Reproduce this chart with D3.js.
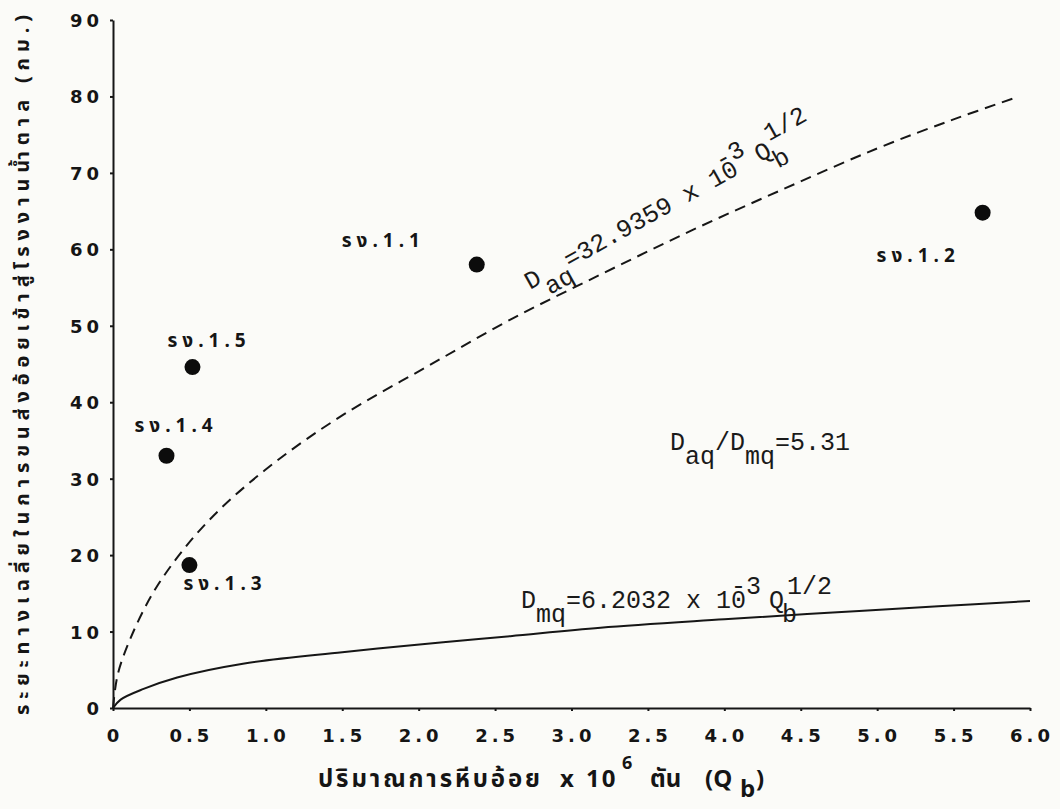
<!DOCTYPE html>
<html>
<head>
<meta charset="utf-8">
<script src="https://cdn.jsdelivr.net/npm/d3@7"></script>
<style>
  body { margin: 0; background: #fbfbf8; }
  svg { display: block; }
  .tick-lbl { font-family: "DejaVu Sans", sans-serif; font-weight: bold; font-size: 18px; letter-spacing: 4px; fill: #151515; }
  .site-lbl { font-family: "Noto Sans Thai", "Loma", "Garuda", "Tlwg Typo", "DejaVu Sans", sans-serif; font-weight: bold; font-size: 19px; letter-spacing: 5px; fill: #151515; }
  .eq { font-family: "Liberation Mono", "Courier New", monospace; font-size: 25px; fill: #1a1a1a; }
  .axis-title { font-family: "Noto Sans Thai", "Loma", "Garuda", "DejaVu Sans", sans-serif; font-weight: bold; fill: #151515; }
</style>
</head>
<body>
<svg id="chart"></svg>
<script>
var width = 1060,
    height = 809;

// x axis: sugarcane crushed x 10^6 tons
var xTicks = [0, 0.5, 1, 1.5, 2, 2.5, 3, 3.5, 4, 4.5, 5, 5.5, 6];
// labels as printed (3.5 is typed as "2.5" in the original)
var xTickLabels = ["0", "0.5", "1.0", "1.5", "2.0", "2.5", "3.0", "2.5", "4.0", "4.5", "5.0", "5.5", "6.0"];
var yTicks = [0, 10, 20, 30, 40, 50, 60, 70, 80, 90];

// sugar mills
var siteNames = ["รง.1.1", "รง.1.2", "รง.1.3", "รง.1.4", "รง.1.5"];
var siteQ = [2.38, 5.69, 0.50, 0.35, 0.52];
var siteD = [58.0, 64.8, 18.7, 33.0, 44.6];

// dashed curve D_aq
var aqQ = [0, 0.03, 0.11, 0.26, 0.46, 0.70, 1.07, 1.51, 2.05, 2.6, 3.2, 3.8, 4.4, 5.0, 5.5, 5.9];
var aqD = [0, 4.3, 8.9, 15.0, 20.7, 26.0, 32.3, 38.4, 44.6, 50.8, 56.8, 62.6, 68.0, 73.2, 77.0, 79.8];

// solid curve D_mq
var mqQ = [0, 0.05, 0.2, 0.42, 0.85, 1.5, 2.16, 2.6, 3.19, 4.0, 4.71, 5.4, 6.0];
var mqD = [0, 1.1, 2.5, 4.0, 5.8, 7.3, 8.6, 9.4, 10.5, 11.6, 12.5, 13.3, 14.0];

// label offsets from each dot (px)
var labelOffset = [[-135, -18], [-106, 49], [-6, 25], [-32, -24], [-25, -20]];

var x = d3.scaleLinear().domain([0, 6]).range([113, 1030]);
var y = d3.scaleLinear().domain([0, 90]).range([708, 20]);

var svg = d3.select('#chart')
  .attr('width', width)
  .attr('height', height);

var ink = '#161616';

// axes
var xAxis = svg.append('g')
  .attr('transform', 'translate(0,' + y(0) + ')')
  .call(d3.axisBottom(x).tickValues(xTicks).tickSize(3).tickSizeOuter(0).tickFormat(''));
var yAxis = svg.append('g')
  .attr('transform', 'translate(' + x(0) + ',0)')
  .call(d3.axisLeft(y).tickValues(yTicks).tickSize(3).tickSizeOuter(0).tickFormat(''));
[xAxis, yAxis].forEach(function(a) {
  a.select('.domain').attr('stroke', ink).attr('stroke-width', 2);
  a.selectAll('.tick line').attr('stroke', ink).attr('stroke-width', 2);
});

svg.append('g').selectAll('text')
  .data(xTicks)
  .join('text')
  .attr('class', 'tick-lbl')
  .attr('x', function(d) { return x(d) + 2; })
  .attr('y', y(0) + 34)
  .attr('text-anchor', 'middle')
  .text(function(d, i) { return xTickLabels[i]; });

svg.append('g').selectAll('text')
  .data(yTicks)
  .join('text')
  .attr('class', 'tick-lbl')
  .attr('x', x(0) - 10)
  .attr('y', function(d) { return y(d) + 7; })
  .attr('text-anchor', 'end')
  .text(function(d) { return d; });

// curves
var line = d3.line()
  .x(function(d) { return x(d[0]); })
  .y(function(d) { return y(d[1]); })
  .curve(d3.curveCatmullRom.alpha(0.5));

svg.append('path')
  .datum(aqQ.map(function(q, i) { return [q, aqD[i]]; }))
  .attr('d', line)
  .attr('fill', 'none')
  .attr('stroke', ink)
  .attr('stroke-width', 2)
  .attr('stroke-dasharray', '11,7');

svg.append('path')
  .datum(mqQ.map(function(q, i) { return [q, mqD[i]]; }))
  .attr('d', line)
  .attr('fill', 'none')
  .attr('stroke', ink)
  .attr('stroke-width', 2);

// mill points
var sites = siteNames.map(function(n, i) { return { name: n, q: siteQ[i], d: siteD[i], off: labelOffset[i] }; });

svg.append('g').selectAll('circle')
  .data(sites)
  .join('circle')
  .attr('cx', function(d) { return x(d.q); })
  .attr('cy', function(d) { return y(d.d); })
  .attr('r', 8)
  .attr('fill', '#0c0c0c');

svg.append('g').selectAll('text')
  .data(sites)
  .join('text')
  .attr('class', 'site-lbl')
  .attr('x', function(d) { return x(d.q) + d.off[0]; })
  .attr('y', function(d) { return y(d.d) + d.off[1]; })
  .text(function(d) { return d.name; });

// equation labels
function equation(g, sub, coef) {
  var t = g.append('text').attr('class', 'eq');
  t.append('tspan').text('D');
  t.append('tspan').attr('dy', 14).text(sub);
  t.append('tspan').attr('dy', -14).text(coef + ' x 10');
  t.append('tspan').attr('dx', -15).attr('dy', -14).text('-3');
  t.append('tspan').attr('dx', 8).attr('dy', 14).text('Q');
  t.append('tspan').attr('dx', -2).attr('dy', 14).text('b');
  t.append('tspan').attr('dx', -10).attr('dy', -28).text('1/2');
  return t;
}

equation(svg.append('g').attr('transform', 'translate(530,290) rotate(-29)'), 'aq', '=32.9359');
equation(svg.append('g').attr('transform', 'translate(521,608)'), 'mq', '=6.2032');

var ratio = svg.append('text').attr('class', 'eq').attr('x', 670).attr('y', 450);
ratio.append('tspan').text('D');
ratio.append('tspan').attr('dy', 14).text('aq');
ratio.append('tspan').attr('dy', -14).text('/D');
ratio.append('tspan').attr('dy', 14).text('mq');
ratio.append('tspan').attr('dy', -14).text('=5.31');

// axis titles
svg.append('text')
  .attr('class', 'axis-title')
  .attr('transform', 'translate(29,365) rotate(-90)')
  .attr('text-anchor', 'middle')
  .attr('font-size', 20)
  .attr('textLength', 700)
  .attr('lengthAdjust', 'spacing')
  .text('ระยะทางเฉลี่ยในการขนส่งอ้อยเข้าสู่โรงงานน้ำตาล (กม.)');

var xt = svg.append('text')
  .attr('class', 'axis-title')
  .attr('y', 787)
  .attr('font-size', 24);
xt.append('tspan').attr('x', 318).attr('textLength', 222).attr('lengthAdjust', 'spacing').text('ปริมาณการหีบอ้อย');
xt.append('tspan').attr('x', 560).text('x');
xt.append('tspan').attr('x', 586).attr('letter-spacing', 2).text('10');
xt.append('tspan').attr('x', 622).attr('dy', -18).attr('font-size', 18).text('6');
xt.append('tspan').attr('x', 650).attr('dy', 18).text('ตัน');
xt.append('tspan').attr('x', 705).text('(Q');
xt.append('tspan').attr('x', 740).attr('dy', 10).text('b');
xt.append('tspan').attr('x', 756).attr('dy', -10).text(')');
</script>
</body>
</html>
